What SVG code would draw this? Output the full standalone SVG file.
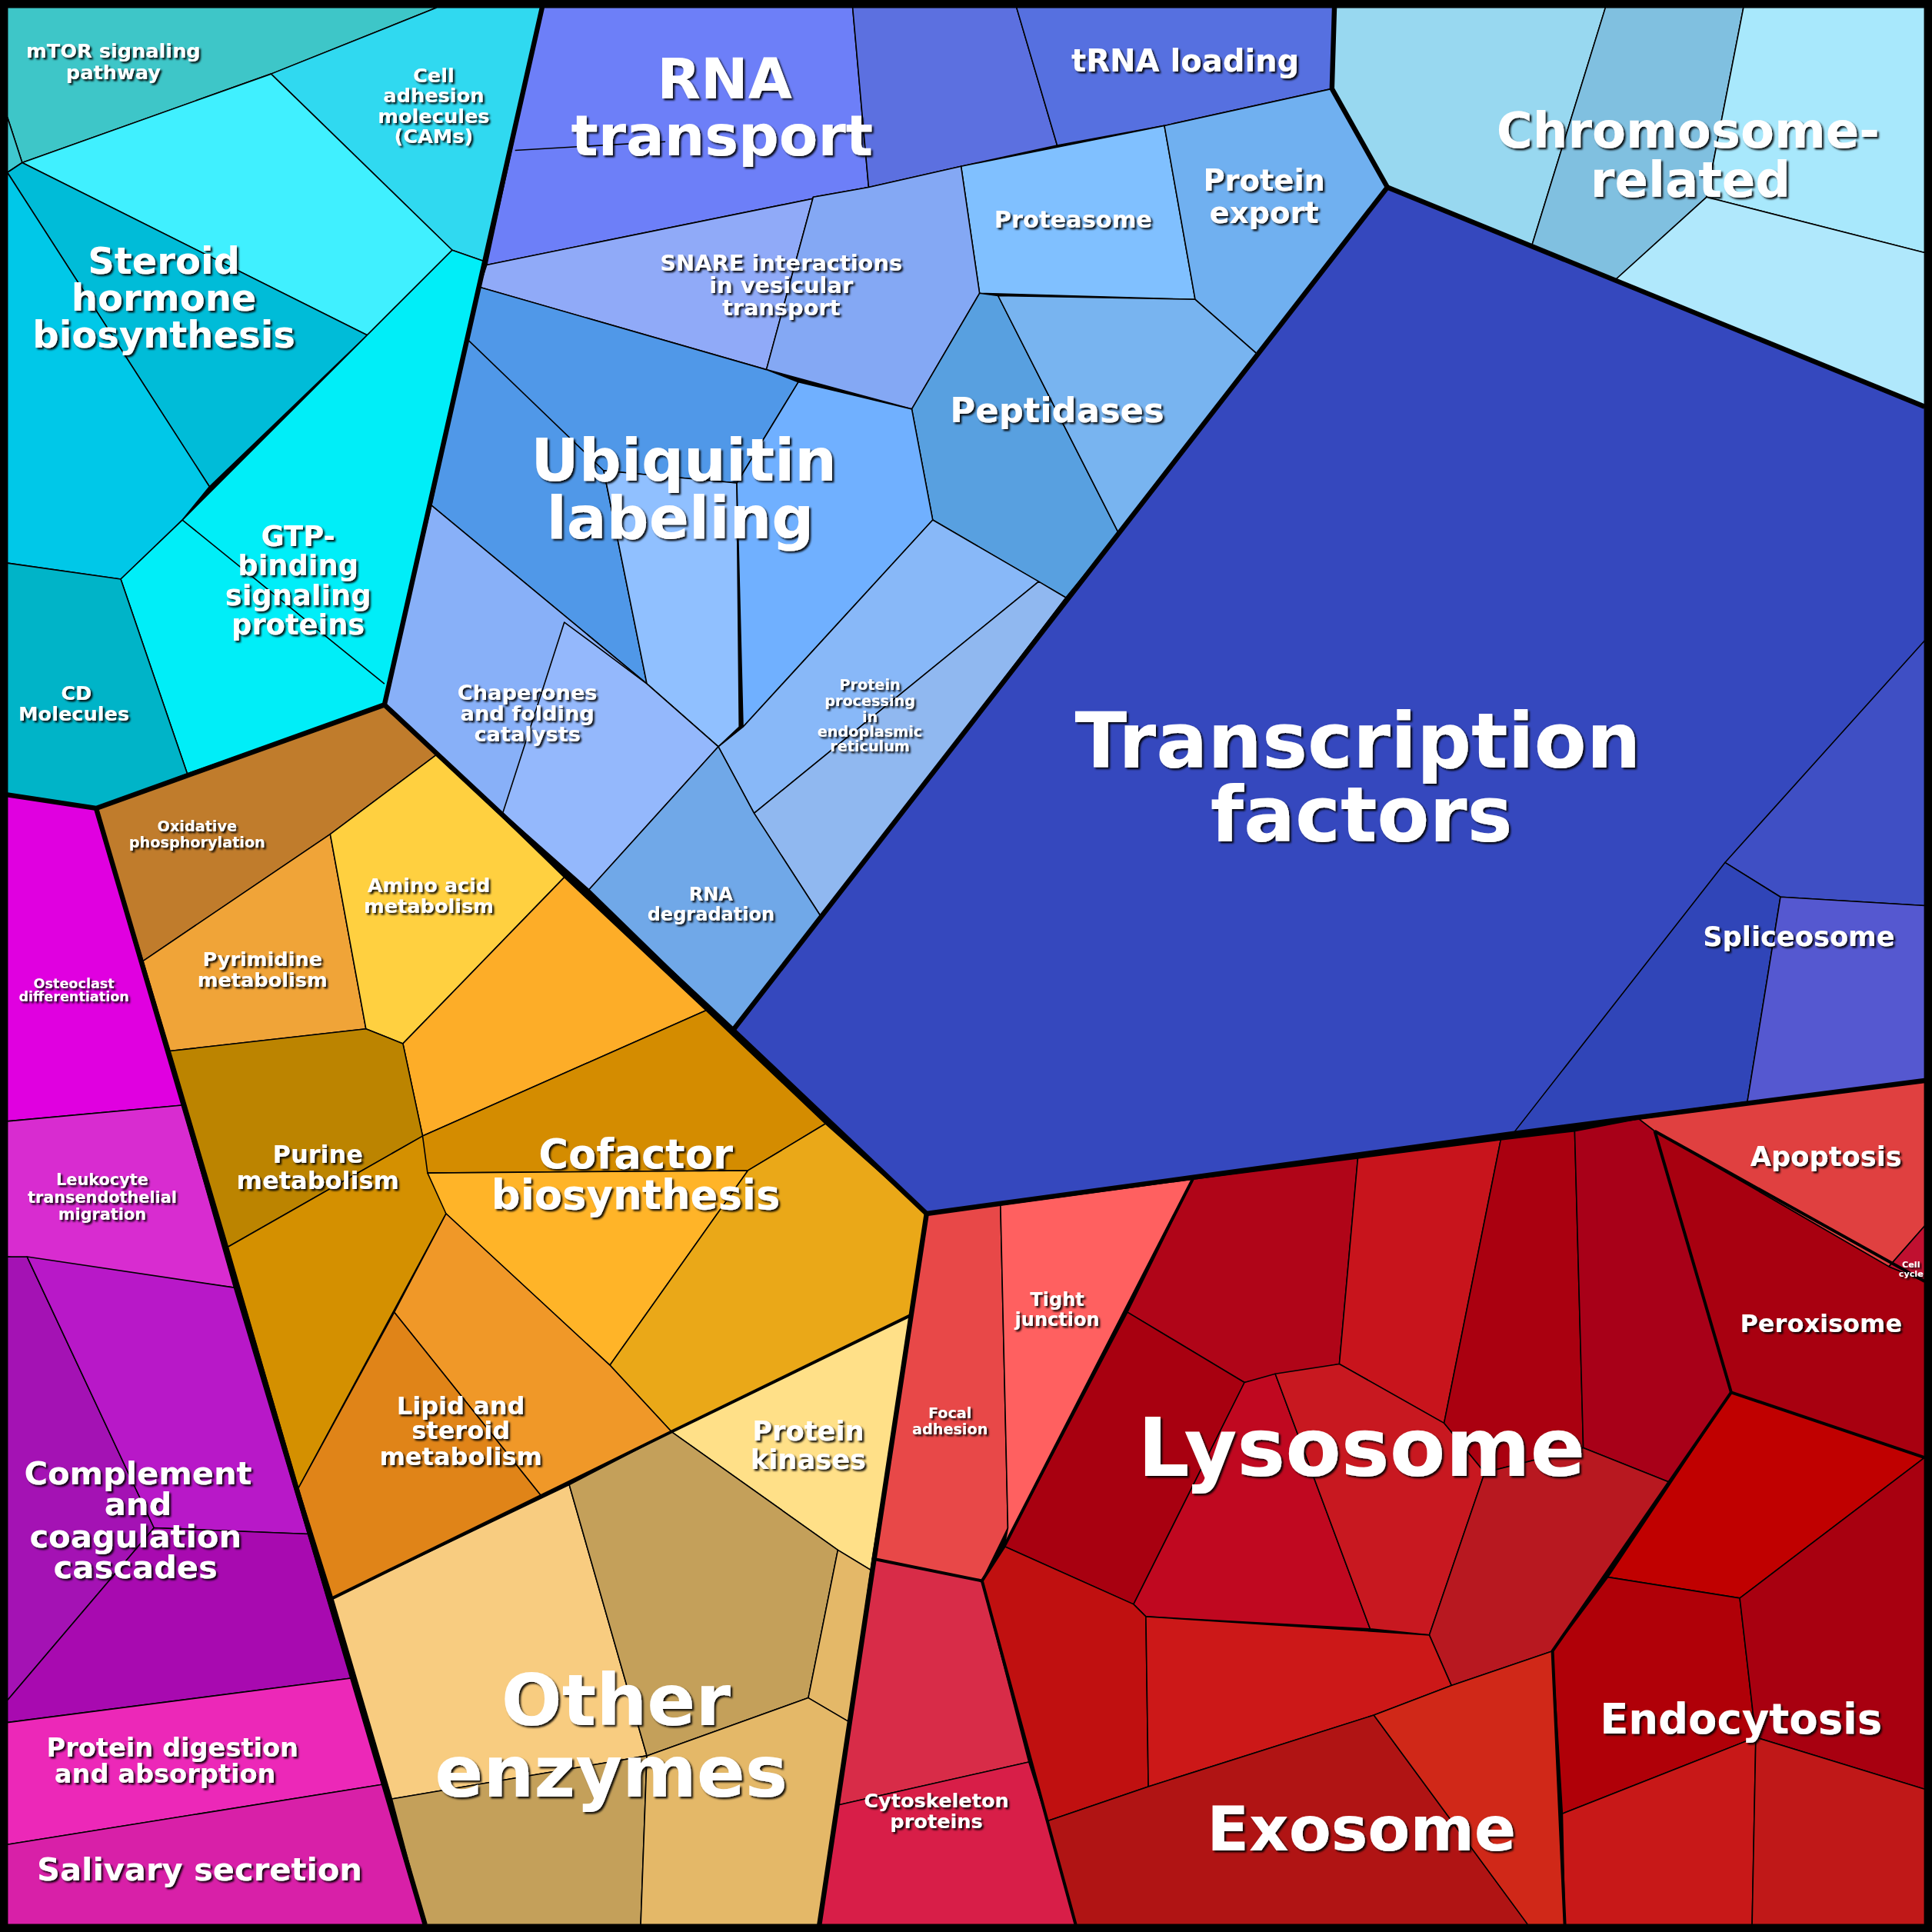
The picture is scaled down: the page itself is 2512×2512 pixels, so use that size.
<svg xmlns="http://www.w3.org/2000/svg" width="2512" height="2512" viewBox="0 0 2512 2512">
<defs>
<filter id="sh" x="-10%" y="-10%" width="120%" height="120%"><feDropShadow dx="1.5" dy="1.5" stdDeviation="0.6" flood-color="#000" flood-opacity="0.9"/></filter>
</defs>
<style>
polygon{stroke:#000;stroke-width:1;stroke-linejoin:round}
.g{fill:none;stroke:#000;stroke-width:4;stroke-linejoin:round}
.s{fill:none;stroke:#000;stroke-width:2.5;stroke-linejoin:round}
text{font-family:"DejaVu Sans",sans-serif;font-weight:bold;fill:#fff;text-anchor:middle;filter:url(#sh)}
</style>
<rect width="2512" height="2512" fill="#000"/>
<g transform="scale(1.60204)">
<g id="cyan">
<polygon points="6,6 355,6 220,60 18,132 6,95" fill="#3ec6c8"/>
<polygon points="6,95 18,132 6,140" fill="#40c8d0"/>
<polygon points="355,6 440,6 393,212 367,203 220,60" fill="#30d9f0"/>
<polygon points="18,132 220,60 367,203 298,272" fill="#40f0ff"/>
<polygon points="6,140 18,132 298,272 170,395" fill="#00bcd8"/>
<polygon points="6,140 170,395 148,422 98,470 6,457" fill="#00c8e8"/>
<polygon points="367,203 393,212 312,572 152,628 98,470 148,422 298,272" fill="#00eef8"/>
<polyline points="148,422 312,555" class="s" style="stroke-width:1"/>
<polygon points="6,457 98,470 152,628 78,656 6,645" fill="#00b4c8"/>
</g>
<g id="blue">
<polygon points="440,6 692,6 705,152 395,215" fill="#6d7ff8"/>
<polyline points="418,122 540,115" class="s" style="stroke-width:1"/>
<polygon points="692,6 825,6 858,118 780,135 705,152" fill="#5c70e0"/>
<polygon points="825,6 1083,6 1081,72 945,102 858,118" fill="#5670e0"/>
<polygon points="780,135 945,102 970,243 795,238" fill="#80c0ff"/>
<polygon points="945,102 1081,72 1126,152 1020,287 970,243" fill="#70b0f0"/>
<polygon points="395,215 705,152 660,160 622,300 389,233" fill="#90aaf8"/>
<polygon points="660,160 705,152 780,135 795,238 740,332 622,300" fill="#84a8f4"/>
<polygon points="795,238 810,240 908,433 865,485 757,422 740,332" fill="#58a0e0"/>
<polygon points="810,240 970,243 1020,287 908,433" fill="#78b4f0"/>
<polygon points="389,233 622,300 648,310 598,392 490,382 525,555 350,410 379,275" fill="#5098e8"/>
<polyline points="379,275 490,382" class="s" style="stroke-width:1"/>
<polygon points="490,382 598,392 600,590 583,606 525,555" fill="#90c0ff"/>
<polygon points="648,310 740,332 757,422 603,590 598,392" fill="#70b0ff"/>
<polygon points="350,410 525,555 583,606 478,722 408,660 312,572" fill="#88b0f8"/>
<polygon points="458,505 525,555 583,606 478,722 408,660" fill="#94b8fc"/>
<polygon points="583,606 603,590 757,422 843,472 612,660" fill="#88b8f8"/>
<polygon points="843,472 865,485 667,745 612,660" fill="#90b8f0"/>
<polygon points="478,722 583,606 612,660 667,745 595,836" fill="#70a8e8"/>
</g>
<g id="chromo">
<polygon points="1083,6 1303,6 1243,200 1126,152 1081,72" fill="#98d8f0"/>
<polygon points="1303,6 1415,6 1385,160 1310,228 1243,200" fill="#80c0e0"/>
<polygon points="1415,6 1562,6 1562,205 1385,160" fill="#a8e8fc"/>
<polygon points="1385,160 1562,205 1562,330 1310,228" fill="#b0e8fc"/>
</g>
<g id="tf">
<polygon points="1126,152 1562,330 1562,877 1330,908 1228,920 752,985 595,836" fill="#3548be"/>
<polygon points="1400,700 1562,520 1562,735 1445,728" fill="#3f4fc4"/>
<polygon points="1228,920 1400,700 1445,728 1418,895" fill="#3045b8"/>
<polygon points="1445,728 1562,735 1562,877 1418,895" fill="#5558d0"/>
</g>
<g id="orange">
<polygon points="78,656 312,572 355,612 268,677 116,780" fill="#c07c2c"/>
<polygon points="116,780 268,677 297,835 138,853" fill="#f0a438"/>
<polygon points="268,677 355,612 458,712 327,847 297,835" fill="#ffd040"/>
<polygon points="458,712 573,820 343,922 327,847" fill="#fdad28"/>
<polygon points="138,853 297,835 327,847 343,922 185,1012" fill="#bc8400"/>
<polygon points="185,1012 343,922 362,985 242,1208" fill="#d49000"/>
<polygon points="343,922 573,820 670,912 607,950 347,952" fill="#d48c00"/>
<polygon points="347,952 607,950 495,1108 362,985" fill="#ffb428"/>
<polygon points="607,950 670,912 752,985 740,1067 545,1162 495,1108" fill="#eaa818"/>
<polygon points="362,985 495,1108 545,1162 440,1215 320,1065" fill="#f09828"/>
<polygon points="242,1208 320,1065 440,1215 270,1297" fill="#e08418"/>
<polygon points="545,1162 740,1067 708,1275 680,1258" fill="#ffe088"/>
<polygon points="270,1297 462,1205 525,1425 318,1460" fill="#f8cc80"/>
<polygon points="462,1205 545,1162 680,1258 656,1378 525,1425" fill="#c4a05a"/>
<polygon points="680,1258 708,1275 690,1398 656,1378" fill="#e4b868"/>
<polygon points="318,1460 525,1425 520,1562 345,1562" fill="#c4a05a"/>
<polygon points="525,1425 656,1378 690,1398 665,1562 520,1562" fill="#e4b868"/>
</g>
<g id="magenta">
<polygon points="6,645 78,656 148,897 6,910" fill="#e000e0"/>
<polygon points="6,910 148,897 190,1045 6,1020" fill="#d82cd0"/>
<polygon points="6,1020 22,1020 125,1240 6,1380" fill="#a412b4"/>
<polygon points="22,1020 190,1045 250,1245 125,1240" fill="#b818c8"/>
<polygon points="6,1380 125,1240 250,1245 285,1362 6,1398" fill="#a80ab0"/>
<polygon points="6,1398 285,1362 312,1448 6,1497" fill="#ec28b8"/>
<polygon points="6,1497 312,1448 345,1562 6,1562" fill="#d820a8"/>
</g>
<g id="red">
<polygon points="752,985 812,978 818,1240 797,1283 708,1265 740,1067" fill="#e84848"/>
<polygon points="812,978 968,957 815,1255 818,1240" fill="#ff6060"/>
<polygon points="708,1265 797,1283 835,1430 680,1465" fill="#d82c48"/>
<polygon points="680,1465 835,1430 850,1478 873,1562 665,1562" fill="#d81e48"/>
<polygon points="968,957 1102,940 1087,1107 1010,1122 915,1065" fill="#b00518"/>
<polygon points="1102,940 1218,925 1172,1155 1087,1107" fill="#c8141c"/>
<polygon points="915,1065 1010,1122 920,1302 815,1255" fill="#a80010"/>
<polygon points="1010,1122 1035,1115 1112,1322 930,1312 920,1302" fill="#c00820"/>
<polygon points="1035,1115 1087,1107 1172,1155 1205,1195 1160,1327 1112,1322" fill="#c81820"/>
<polygon points="1218,925 1278,918 1285,1175 1205,1195 1172,1155" fill="#aa0010"/>
<polygon points="1278,918 1330,908 1343,918 1405,1130 1355,1203 1285,1175" fill="#a80018"/>
<polygon points="1205,1195 1285,1175 1355,1203 1260,1340 1178,1368 1160,1327" fill="#b81820"/>
<polygon points="797,1283 815,1255 920,1302 930,1312 932,1450 850,1478" fill="#c01010"/>
<polygon points="930,1312 1160,1327 1178,1368 1115,1392 932,1450" fill="#cc1818"/>
<polygon points="850,1478 932,1450 1115,1392 1240,1562 873,1562" fill="#b01414"/>
<polygon points="1115,1392 1178,1368 1260,1340 1270,1562 1240,1562" fill="#d02818"/>
<polygon points="1330,908 1562,877 1562,995 1533,1028 1343,918" fill="#e04040"/>
<polygon points="1533,1028 1562,995 1562,1040" fill="#c01030"/>
<polygon points="1343,918 1533,1028 1562,1040 1562,1183 1405,1130" fill="#a80010"/>
<polygon points="1405,1130 1562,1183 1412,1297 1305,1280" fill="#c00000"/>
<polygon points="1305,1280 1412,1297 1425,1410 1268,1472 1260,1340" fill="#b00008"/>
<polygon points="1412,1297 1562,1183 1562,1452 1425,1410" fill="#a80010"/>
<polygon points="1268,1472 1425,1410 1422,1562 1270,1562" fill="#c81818"/>
<polygon points="1425,1410 1562,1452 1562,1562 1422,1562" fill="#c01818"/>
</g>
<g id="connectors">
<polyline class="g" points="440,6 312,572 78,656 6,645"/>
<polyline class="g" points="1083,6 1081,72 1126,152 595,836 312,572"/>
<polyline class="g" points="1126,152 1562,330"/>
<polyline class="g" points="595,836 752,985 1228,920 1562,877"/>
<polyline class="g" points="752,985 708,1275 665,1562"/>
<polyline class="g" points="78,656 345,1562"/>
<polyline class="s" points="1343,918 1562,1040"/>
<polyline class="s" points="1343,918 1405,1130 1562,1183"/>
<polyline class="s" points="1405,1130 1260,1340 1270,1562"/>
<polyline class="s" points="968,957 815,1255 797,1283 850,1478 873,1562"/>
<polyline class="s" points="797,1283 708,1265"/>
<polyline class="s" points="1228,920 1418,895"/>
<polyline class="s" points="270,1297 545,1162 740,1067"/>
<rect x="3" y="3" width="1562" height="1562" fill="none" stroke="#000" stroke-width="6"/>
</g>
<g id="labels">
<text x="92" y="47" font-size="16">mTOR signaling</text><text x="92" y="64" font-size="16">pathway</text>
<text x="352" y="67" font-size="16">Cell</text><text x="352" y="83" font-size="16">adhesion</text><text x="352" y="100" font-size="16">molecules</text><text x="352" y="116" font-size="16">(CAMs)</text>
<text x="133" y="222" font-size="30">Steroid</text><text x="133" y="252" font-size="30">hormone</text><text x="133" y="282" font-size="30">biosynthesis</text>
<text x="242" y="443" font-size="23">GTP-</text><text x="242" y="467" font-size="23">binding</text><text x="242" y="491" font-size="23">signaling</text><text x="242" y="515" font-size="23">proteins</text>
<text x="62" y="568" font-size="16">CD</text><text x="60" y="585" font-size="16">Molecules</text>
<text x="588" y="80" font-size="46">RNA</text><text x="586" y="126" font-size="46">transport</text>
<text x="962" y="58" font-size="25">tRNA loading</text>
<text x="871" y="185" font-size="19">Proteasome</text>
<text x="1026" y="155" font-size="24">Protein</text><text x="1026" y="181" font-size="24">export</text>
<text x="634" y="220" font-size="18">SNARE interactions</text><text x="634" y="238" font-size="18">in vesicular</text><text x="634" y="256" font-size="18">transport</text>
<text x="858" y="343" font-size="28">Peptidases</text>
<text x="555" y="390" font-size="48">Ubiquitin</text><text x="552" y="437" font-size="48">labeling</text>
<text x="428" y="568" font-size="17">Chaperones</text><text x="428" y="585" font-size="17">and folding</text><text x="428" y="602" font-size="17">catalysts</text>
<text x="706" y="560" font-size="12">Protein</text><text x="706" y="573" font-size="12">processing</text><text x="706" y="586" font-size="12">in</text><text x="706" y="598" font-size="12">endoplasmic</text><text x="706" y="610" font-size="12">reticulum</text>
<text x="577" y="731" font-size="15">RNA</text><text x="577" y="747" font-size="15">degradation</text>
<text x="1370" y="120" font-size="40">Chromosome-</text><text x="1372" y="160" font-size="40">related</text>
<text x="1102" y="623" font-size="62">Transcription</text><text x="1105" y="683" font-size="62">factors</text>
<text x="1460" y="768" font-size="22">Spliceosome</text>
<text x="160" y="675" font-size="12">Oxidative</text><text x="160" y="688" font-size="12">phosphorylation</text>
<text x="348" y="724" font-size="16">Amino acid</text><text x="348" y="741" font-size="16">metabolism</text>
<text x="213" y="784" font-size="16">Pyrimidine</text><text x="213" y="801" font-size="16">metabolism</text>
<text x="258" y="944" font-size="20">Purine</text><text x="258" y="965" font-size="20">metabolism</text>
<text x="516" y="948" font-size="33">Cofactor</text><text x="516" y="981" font-size="33">biosynthesis</text>
<text x="374" y="1148" font-size="20">Lipid and</text><text x="374" y="1168" font-size="20">steroid</text><text x="374" y="1189" font-size="20">metabolism</text>
<text x="656" y="1169" font-size="22">Protein</text><text x="656" y="1192" font-size="22">kinases</text>
<text x="500" y="1400" font-size="58">Other</text><text x="496" y="1458" font-size="58">enzymes</text>
<text x="60" y="802" font-size="11">Osteoclast</text><text x="60" y="813" font-size="11">differentiation</text>
<text x="83" y="962" font-size="13">Leukocyte</text><text x="83" y="976" font-size="13">transendothelial</text><text x="83" y="990" font-size="13">migration</text>
<text x="112" y="1205" font-size="26">Complement</text><text x="112" y="1230" font-size="26">and</text><text x="110" y="1256" font-size="26">coagulation</text><text x="110" y="1281" font-size="26">cascades</text>
<text x="140" y="1426" font-size="21">Protein digestion</text><text x="134" y="1447" font-size="21">and absorption</text>
<text x="162" y="1526" font-size="26">Salivary secretion</text>
<text x="858" y="1060" font-size="15">Tight</text><text x="858" y="1076" font-size="15">junction</text>
<text x="771" y="1151" font-size="12">Focal</text><text x="771" y="1164" font-size="12">adhesion</text>
<text x="1105" y="1198" font-size="66">Lysosome</text>
<text x="760" y="1467" font-size="16">Cytoskeleton</text><text x="760" y="1484" font-size="16">proteins</text>
<text x="1105" y="1502" font-size="50">Exosome</text>
<text x="1482" y="946" font-size="22">Apoptosis</text>
<text x="1551" y="1029" font-size="7">Cell</text><text x="1551" y="1036" font-size="7">cycle</text>
<text x="1478" y="1081" font-size="20">Peroxisome</text>
<text x="1413" y="1407" font-size="34">Endocytosis</text>
</g>
</g>
</svg>
